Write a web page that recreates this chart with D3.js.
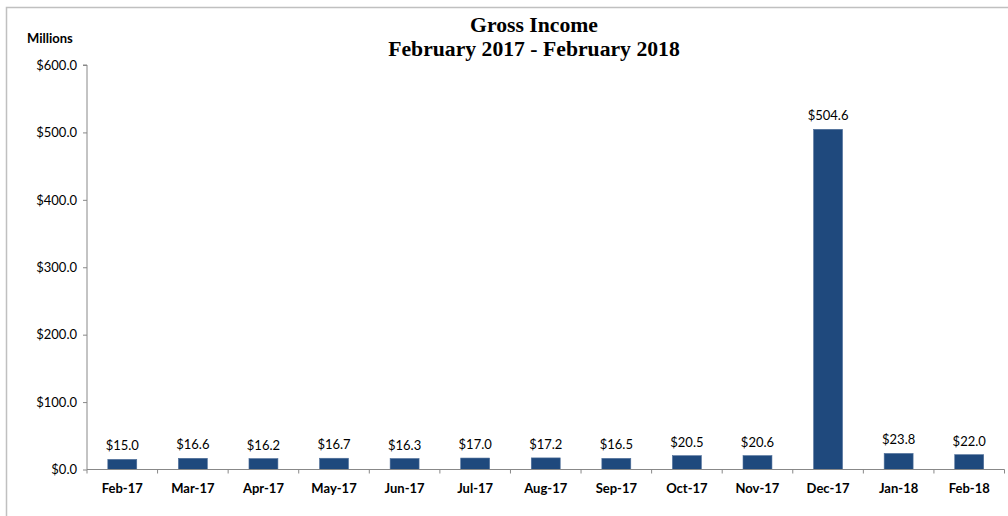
<!DOCTYPE html>
<html><head><meta charset="utf-8">
<script src="https://cdn.jsdelivr.net/npm/d3@7"></script>
<style>
body{margin:0;background:#fff;}
svg{display:block;}
</style></head>
<body>
<svg id="c" width="1008" height="516"></svg>
<script>
const categories = ["Feb-17","Mar-17","Apr-17","May-17","Jun-17","Jul-17","Aug-17","Sep-17","Oct-17","Nov-17","Dec-17","Jan-18","Feb-18"];
const values = [15.0,16.6,16.2,16.7,16.3,17.0,17.2,16.5,20.5,20.6,504.6,23.8,22.0];
const yTicks = [0,100,200,300,400,500,600];
const titleLines = ["Gross Income","February 2017 - February 2018"];
const yLabel = "Millions";

(function(){
const svg = d3.select("#c");
const mLeft = 87, mRight = 1004.5, mTop = 65, mBottom = 469.5;
const fmt = v => "$" + v.toFixed(1);
const FONT = "Lato, 'Open Sans', sans-serif";
const FS = 13;

// chart frame
svg.append("path").attr("d","M6.5,516 L6.5,7.5 L1008,7.5")
  .attr("fill","none").attr("stroke","#c0c0c0").attr("stroke-width",1.5);

const x = d3.scaleBand().domain(categories).range([mLeft,mRight]).paddingInner(0.59).paddingOuter(0.295);
const y = d3.scaleLinear().domain([0,600]).range([mBottom,mTop]);

// bars
svg.append("g").selectAll("rect").data(values).join("rect")
  .attr("x",(d,i)=>x(categories[i]))
  .attr("y",d=>y(d))
  .attr("width",x.bandwidth())
  .attr("height",d=>y(0)-y(d))
  .attr("fill","#1f497d")
  .attr("stroke","#4f6f9a").attr("stroke-width",0.6);

// y axis
const ya = svg.append("g").attr("transform",`translate(${mLeft},0)`)
  .call(d3.axisLeft(y).tickValues(yTicks).tickFormat(fmt).tickSize(4).tickPadding(6));
ya.select(".domain").attr("stroke","#888").attr("d",`M-4,${y(600)}H0V${mBottom}`);
ya.selectAll(".tick line").attr("stroke","#888");
ya.selectAll("text").attr("font-family",FONT).attr("font-size",FS).attr("fill","#000");

// x axis
const step = x.step();
const xa = svg.append("g").attr("transform",`translate(0,${mBottom})`);
xa.append("line").attr("x1",mLeft).attr("x2",mRight).attr("stroke","#888");
const bounds = d3.range(categories.length+1).map(i=>mLeft+i*step);
xa.selectAll("line.t").data(bounds).join("line").attr("class","t")
  .attr("x1",d=>d).attr("x2",d=>d).attr("y1",0).attr("y2",4).attr("stroke","#888");
xa.selectAll("text").data(categories).join("text")
  .attr("x",d=>x(d)+x.bandwidth()/2).attr("y",23)
  .attr("text-anchor","middle").attr("font-family",FONT)
  .attr("font-weight","bold").attr("font-size",FS).text(d=>d);

// value labels
svg.append("g").selectAll("text").data(values).join("text")
  .attr("x",(d,i)=>x(categories[i])+x.bandwidth()/2)
  .attr("y",d=>y(d)-9)
  .attr("text-anchor","middle").attr("font-family",FONT)
  .attr("font-size",FS).attr("fill","#000").text(fmt);

// title
svg.append("g").selectAll("text").data(titleLines).join("text")
  .attr("x",534).attr("y",(d,i)=>32+i*24)
  .attr("text-anchor","middle").attr("font-family","'Liberation Serif', serif")
  .attr("font-weight","bold").attr("font-size",21.7).text(d=>d);

svg.append("text").attr("x",27).attr("y",43).attr("font-family",FONT)
  .attr("font-weight","bold").attr("font-size",FS).text(yLabel);
})();
</script>
</body></html>
